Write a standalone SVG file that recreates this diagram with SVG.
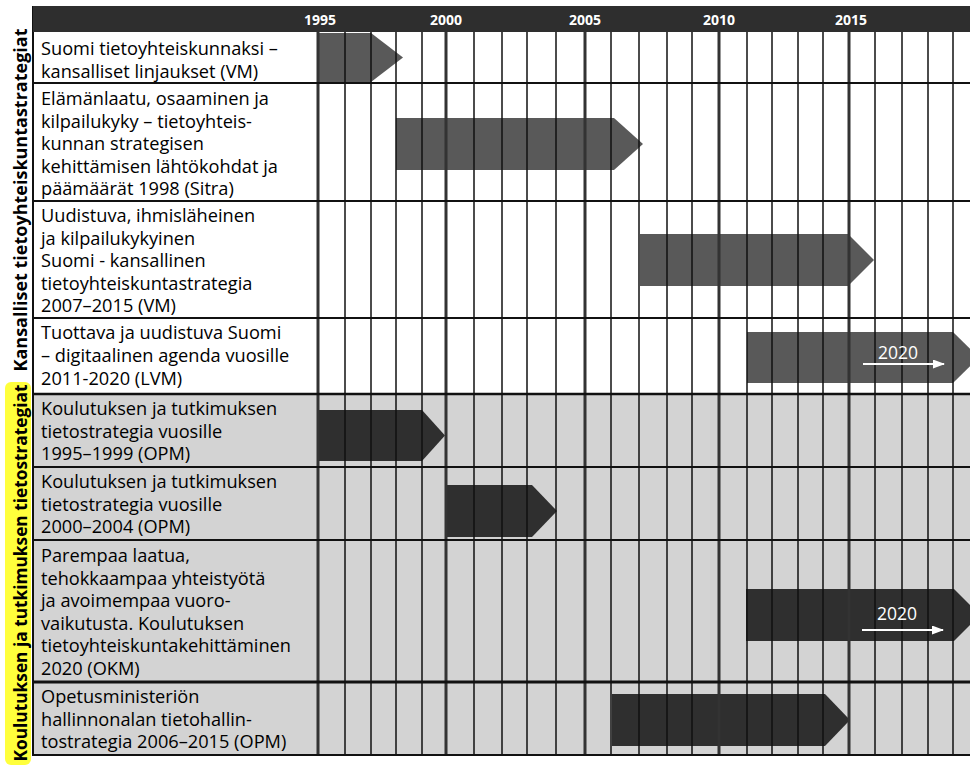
<svg xmlns="http://www.w3.org/2000/svg" width="970" height="765" viewBox="0 0 970 765">
<defs>
<style>
.lbl{font-family:"Open Sans","Liberation Sans",sans-serif;font-size:18.2px;fill:#000}
.side{font-family:"Open Sans","Liberation Sans",sans-serif;font-size:18px;font-weight:bold;fill:#000}
.yr{font-family:"Open Sans","Liberation Sans",sans-serif;font-size:14px;font-weight:bold;fill:#fff;text-anchor:middle}
.y20{font-family:"Open Sans","Liberation Sans",sans-serif;font-size:17.5px;fill:#fff;text-anchor:middle}
.mid{fill:#595959}
.dark{fill:#2f2f2f}
.thin{stroke:#111;stroke-width:1.5}
.thick{stroke:#333;stroke-width:3}
.hl{stroke:#111;stroke-width:2}
.wl{stroke:#fff;stroke-width:2;fill:none}
</style>
<marker id="wh" viewBox="0 0 12 9" refX="11" refY="4.5" markerWidth="12" markerHeight="9" markerUnits="userSpaceOnUse" orient="auto">
<path d="M0,0 L12,4.5 L0,9 Z" fill="#fff"/>
</marker>
</defs>
<rect x="0" y="0" width="970" height="765" fill="#fff"/>
<rect x="33" y="394" width="937" height="361" fill="#d3d3d3"/>

<g id="bars">
<polygon class="mid" points="318,33 371,33 403,57.5 371,82 318,82"/>
<polygon class="mid" points="396,118 614,118 643,144 614,170 396,170"/>
<polygon class="mid" points="640,234 848,234 874,260 848,286 640,286"/>
<polygon class="mid" points="747,332 953,332 979,357.5 953,383 747,383"/>
<polygon class="dark" points="318,410 422,410 445,435.5 422,461 318,461"/>
<polygon class="dark" points="447,485 532,485 557,511 532,537 447,537"/>
<polygon class="dark" points="746,589 954,589 980,615 954,641 746,641"/>
<polygon class="dark" points="612,694 825,694 850,720 825,746 612,746"/>
</g>

<g id="grid">
<line class="thin" x1="345" y1="32" x2="345" y2="755"/>
<line class="thin" x1="371" y1="32" x2="371" y2="755"/>
<line class="thin" x1="396" y1="32" x2="396" y2="755"/>
<line class="thin" x1="422" y1="32" x2="422" y2="755"/>
<line class="thin" x1="474" y1="32" x2="474" y2="755"/>
<line class="thin" x1="502" y1="32" x2="502" y2="755"/>
<line class="thin" x1="527" y1="32" x2="527" y2="755"/>
<line class="thin" x1="556" y1="32" x2="556" y2="755"/>
<line class="thin" x1="611" y1="32" x2="611" y2="755"/>
<line class="thin" x1="639" y1="32" x2="639" y2="755"/>
<line class="thin" x1="667" y1="32" x2="667" y2="755"/>
<line class="thin" x1="692" y1="32" x2="692" y2="755"/>
<line class="thin" x1="747" y1="32" x2="747" y2="755"/>
<line class="thin" x1="772" y1="32" x2="772" y2="755"/>
<line class="thin" x1="798" y1="32" x2="798" y2="755"/>
<line class="thin" x1="823" y1="32" x2="823" y2="755"/>
<line class="thin" x1="875" y1="32" x2="875" y2="755"/>
<line class="thin" x1="902" y1="32" x2="902" y2="755"/>
<line class="thin" x1="928" y1="32" x2="928" y2="755"/>
<line class="thin" x1="953" y1="32" x2="953" y2="755"/>
<line class="thick" x1="318" y1="32" x2="318" y2="755"/>
<line class="thick" x1="446" y1="32" x2="446" y2="755"/>
<line class="thick" x1="585" y1="32" x2="585" y2="755"/>
<line class="thick" x1="719" y1="32" x2="719" y2="755"/>
<line class="thick" x1="849" y1="32" x2="849" y2="755"/>
<line class="hl" x1="33" y1="6" x2="33" y2="756"/>
<line class="hl" x1="33" y1="83" x2="970" y2="83"/>
<line class="hl" x1="33" y1="201" x2="970" y2="201"/>
<line class="hl" x1="33" y1="318" x2="970" y2="318"/>
<line class="hl" x1="33" y1="394" x2="970" y2="394" style="stroke-width:2.5"/>
<line class="hl" x1="33" y1="467" x2="970" y2="467"/>
<line class="hl" x1="33" y1="540" x2="970" y2="540"/>
<line class="hl" x1="33" y1="682" x2="970" y2="682" style="stroke-width:3"/>
<line class="hl" x1="32" y1="755" x2="970" y2="755"/>
</g>

<g id="header">
<rect x="33" y="6" width="937" height="26" fill="#2e2e2e"/>
<text class="yr" x="320" y="25">1995</text>
<text class="yr" x="446" y="25">2000</text>
<text class="yr" x="585" y="25">2005</text>
<text class="yr" x="719" y="25">2010</text>
<text class="yr" x="851" y="25">2015</text>
</g>

<g id="side-labels">
<text class="side" text-anchor="middle" transform="translate(27,200) rotate(-90)">Kansalliset tietoyhteiskuntastrategiat</text>
<rect x="5" y="382" width="26" height="383" rx="6" fill="#ffff3c"/>
<text class="side" text-anchor="middle" style="font-size:17.3px" transform="translate(27,573) rotate(-90)">Koulutuksen ja tutkimuksen tietostrategiat</text>
</g>

<g id="row1"><text class="lbl" x="41" y="55">Suomi tietoyhteiskunnaksi –</text><text class="lbl" x="41" y="78">kansalliset linjaukset (VM)</text></g>
<g id="row2"><text class="lbl" x="41" y="105">Elämänlaatu, osaaminen ja</text><text class="lbl" x="41" y="128">kilpailukyky – tietoyhteis-</text><text class="lbl" x="41" y="150">kunnan strategisen</text><text class="lbl" x="41" y="173">kehittämisen lähtökohdat ja</text><text class="lbl" x="41" y="195">päämäärät 1998 (Sitra)</text></g>
<g id="row3"><text class="lbl" x="41" y="222">Uudistuva, ihmisläheinen</text><text class="lbl" x="41" y="245">ja kilpailukykyinen</text><text class="lbl" x="41" y="267">Suomi - kansallinen</text><text class="lbl" x="41" y="290">tietoyhteiskuntastrategia</text><text class="lbl" x="41" y="312">2007–2015 (VM)</text></g>
<g id="row4"><text class="lbl" x="41" y="339">Tuottava ja uudistuva Suomi</text><text class="lbl" x="41" y="362">– digitaalinen agenda vuosille</text><text class="lbl" x="41" y="385">2011-2020 (LVM)</text></g>
<g id="row5"><text class="lbl" x="41" y="415">Koulutuksen ja tutkimuksen</text><text class="lbl" x="41" y="438">tietostrategia vuosille</text><text class="lbl" x="41" y="460">1995–1999 (OPM)</text></g>
<g id="row6"><text class="lbl" x="41" y="488">Koulutuksen ja tutkimuksen</text><text class="lbl" x="41" y="511">tietostrategia vuosille</text><text class="lbl" x="41" y="533">2000–2004 (OPM)</text></g>
<g id="row7"><text class="lbl" x="41" y="562">Parempaa laatua,</text><text class="lbl" x="41" y="585">tehokkaampaa yhteistyötä</text><text class="lbl" x="41" y="607">ja avoimempaa vuoro-</text><text class="lbl" x="41" y="630">vaikutusta. Koulutuksen</text><text class="lbl" x="41" y="652">tietoyhteiskuntakehittäminen</text><text class="lbl" x="41" y="675">2020 (OKM)</text></g>
<g id="row8"><text class="lbl" x="41" y="703">Opetusministeriön</text><text class="lbl" x="41" y="726">hallinnonalan tietohallin-</text><text class="lbl" x="41" y="748">tostrategia 2006–2015 (OPM)</text></g>

<g id="connectors">
<text class="y20" x="898" y="359">2020</text>
<line class="wl" x1="863" y1="364" x2="944" y2="364" marker-end="url(#wh)"/>
<text class="y20" x="897" y="620">2020</text>
<line class="wl" x1="862" y1="630" x2="943" y2="630" marker-end="url(#wh)"/>
</g>
</svg>
